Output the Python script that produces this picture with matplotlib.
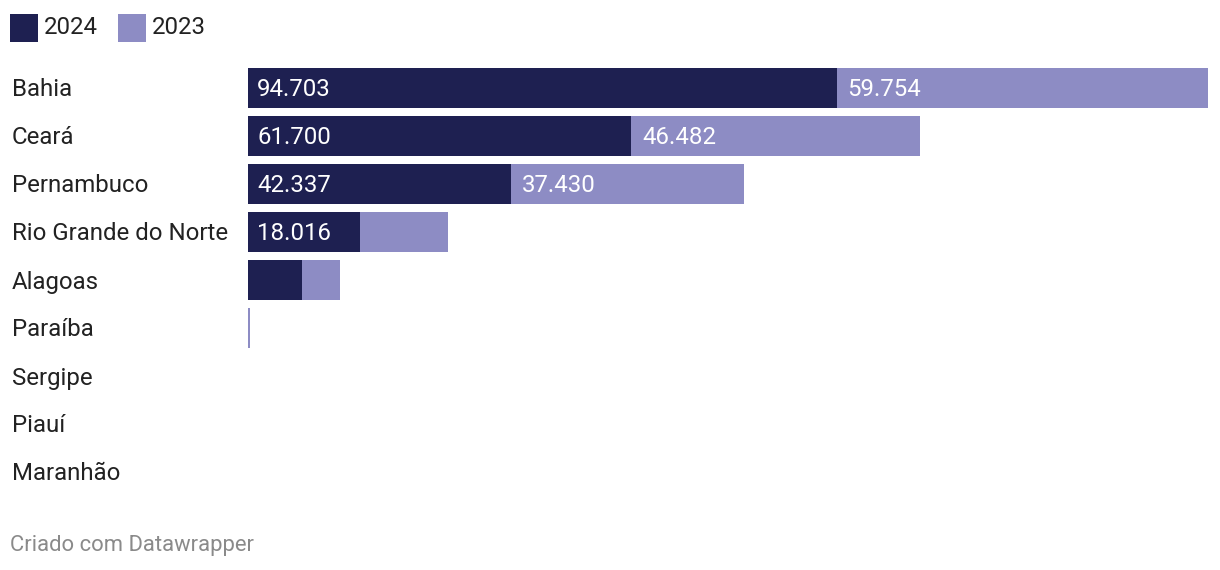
import matplotlib.pyplot as plt
from matplotlib.patches import Rectangle

estados = ["Bahia", "Ceará", "Pernambuco", "Rio Grande do Norte", "Alagoas",
           "Paraíba", "Sergipe", "Piauí", "Maranhão"]
v2024 = [94703, 61700, 42337, 18016, 8690, 0, 0, 0, 0]
v2023 = [59754, 46482, 37430, 14160, 6110, 300, 0, 0, 0]
rotulo_2024 = [True, True, True, True, False, False, False, False, False]
rotulo_2023 = [True, True, True, False, False, False, False, False, False]

COR_24 = "#1e2051"
COR_23 = "#8d8cc4"
FS = 17.3

plt.rcParams['font.family'] = ['Roboto', 'DejaVu Sans']

W, H = 1220, 570
fig = plt.figure(figsize=(W / 100, H / 100), dpi=100)

def px(x, y):
    return x / W, 1 - y / H

# eixo das barras: 9 linhas de 48 px, de y=64 até y=496
ax = fig.add_axes([248 / W, 1 - 496 / H, 960 / W, 432 / H])
pos = list(range(len(estados)))
ax.barh(pos, v2024, height=40 / 48, color=COR_24, linewidth=0)
ax.barh(pos, v2023, left=v2024, height=40 / 48, color=COR_23, linewidth=0)
ax.set_xlim(0, v2024[0] + v2023[0])
ax.set_ylim(len(estados) - 0.5, -0.5)
ax.axis("off")

def fmt(v):
    return f"{v:,}".replace(",", ".")

for i in pos:
    if rotulo_2024[i]:
        ax.text(1500, i + 0.04, fmt(v2024[i]), color="white",
                va="center", ha="left", fontsize=FS)
    if rotulo_2023[i]:
        ax.text(v2024[i] + 1700, i + 0.04, fmt(v2023[i]), color="white",
                va="center", ha="left", fontsize=FS)
    x, y = px(12, 90 + 48 * i)
    fig.text(x, y, estados[i], va="center", ha="left", fontsize=FS, color="#222222")

# legenda
fig.patches.append(Rectangle(px(10, 42), 28 / W, 28 / H, transform=fig.transFigure,
                             color=COR_24, lw=0))
fig.text(*px(44, 28), "2024", va="center", ha="left", fontsize=FS, color="#222222")
fig.patches.append(Rectangle(px(118, 42), 28 / W, 28 / H, transform=fig.transFigure,
                             color=COR_23, lw=0))
fig.text(*px(152, 28), "2023", va="center", ha="left", fontsize=FS, color="#222222")

fig.text(*px(10, 546), "Criado com Datawrapper", va="center", ha="left",
         fontsize=15.8, color="#8a8a8a")

fig.savefig("out.png", dpi=100)
